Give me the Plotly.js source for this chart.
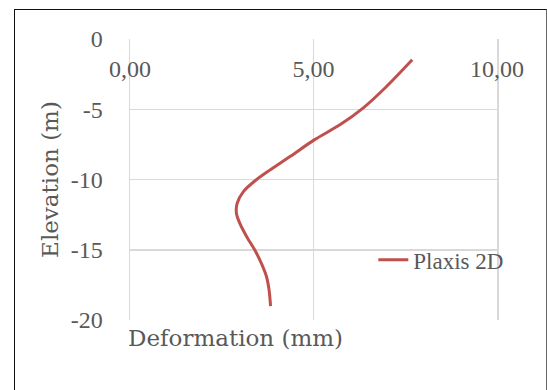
<!DOCTYPE html>
<html>
<head>
<meta charset="utf-8">
<script src="https://cdn.plot.ly/plotly-3.0.1.min.js"></script>
<style>
  html, body { margin: 0; padding: 0; background: #ffffff; }
  #frame { position: absolute; left: 14px; top: 9px; width: 531px; height: 400px;
           border-left: 1px solid #111; border-top: 1px solid #111; border-right: 1px solid #666; }
  #chart { position: absolute; left: 0; top: 0; width: 547px; height: 390px; }
</style>
</head>
<body>
<div id="frame"></div>
<div id="chart"></div>
<script>
// Data
const seriesName = "Plaxis 2D";
const deformation = [7.69, 6.99, 6.35, 5.72, 5.02, 4.36, 3.80, 3.45, 3.09, 2.92, 2.90, 2.99, 3.18, 3.40, 3.58, 3.72, 3.79, 3.83];
const elevation   = [-1.48, -3.38, -4.92, -6.11, -7.18, -8.37, -9.35, -10.0, -10.86, -11.69, -12.40, -13.11, -14.07, -15.02, -15.97, -16.92, -17.87, -19.01];
const xTickVals = [0, 5, 10];
const xTickText = ["0,00", "5,00", "10,00"];
const yTickVals = [0, -5, -10, -15, -20];
const yTickText = ["0", "-5", "-10", "-15", "-20"];
const xTitle = "Deformation (mm)";
const yTitle = "Elevation (m)";

const textColor = "#595959";
const gridColor = "#d9d9d9";

const trace = {
  x: deformation,
  y: elevation,
  type: "scatter",
  mode: "lines",
  name: seriesName,
  line: { color: "#C0504D", width: 3, shape: "spline", smoothing: 0.8 }
};

const layout = {
  width: 547,
  height: 390,
  margin: { l: 130, r: 50, t: 39, b: 70 },
  paper_bgcolor: "rgba(0,0,0,0)",
  plot_bgcolor: "rgba(0,0,0,0)",
  showlegend: true,
  legend: {
    x: 0.663, xanchor: "left", y: 0.214, yanchor: "middle",
    bgcolor: "rgba(0,0,0,0)",
    font: { family: "Liberation Serif", size: 23, color: textColor }
  },
  xaxis: {
    range: [0, 10],
    tickvals: xTickVals,
    ticktext: xTickText,
    anchor: "free",
    position: 0.955,
    side: "bottom",
    ticks: "",
    showgrid: true,
    gridcolor: gridColor,
    gridwidth: 1.5,
    zeroline: false,
    showline: false,
    tickfont: { family: "Liberation Serif", size: 24, color: textColor }
  },
  yaxis: {
    range: [-20, 0],
    tickvals: yTickVals,
    ticktext: yTickText,
    ticks: "",
    ticklabelstandoff: 21,
    showgrid: true,
    gridcolor: gridColor,
    gridwidth: 1.5,
    zeroline: false,
    showline: true,
    mirror: true,
    linecolor: gridColor,
    linewidth: 1.5,
    tickfont: { family: "Liberation Serif", size: 24, color: textColor },
    title: { text: yTitle, standoff: 5, font: { family: "DejaVu Serif", size: 23, color: textColor } }
  },
  annotations: [{
    text: xTitle,
    xref: "paper", yref: "paper",
    x: -0.011, xanchor: "left",
    y: -0.065, yanchor: "middle",
    showarrow: false,
    font: { family: "DejaVu Serif", size: 23, color: textColor }
  }]
};

Plotly.newPlot("chart", [trace], layout, { displayModeBar: false, staticPlot: true });
</script>
</body>
</html>
